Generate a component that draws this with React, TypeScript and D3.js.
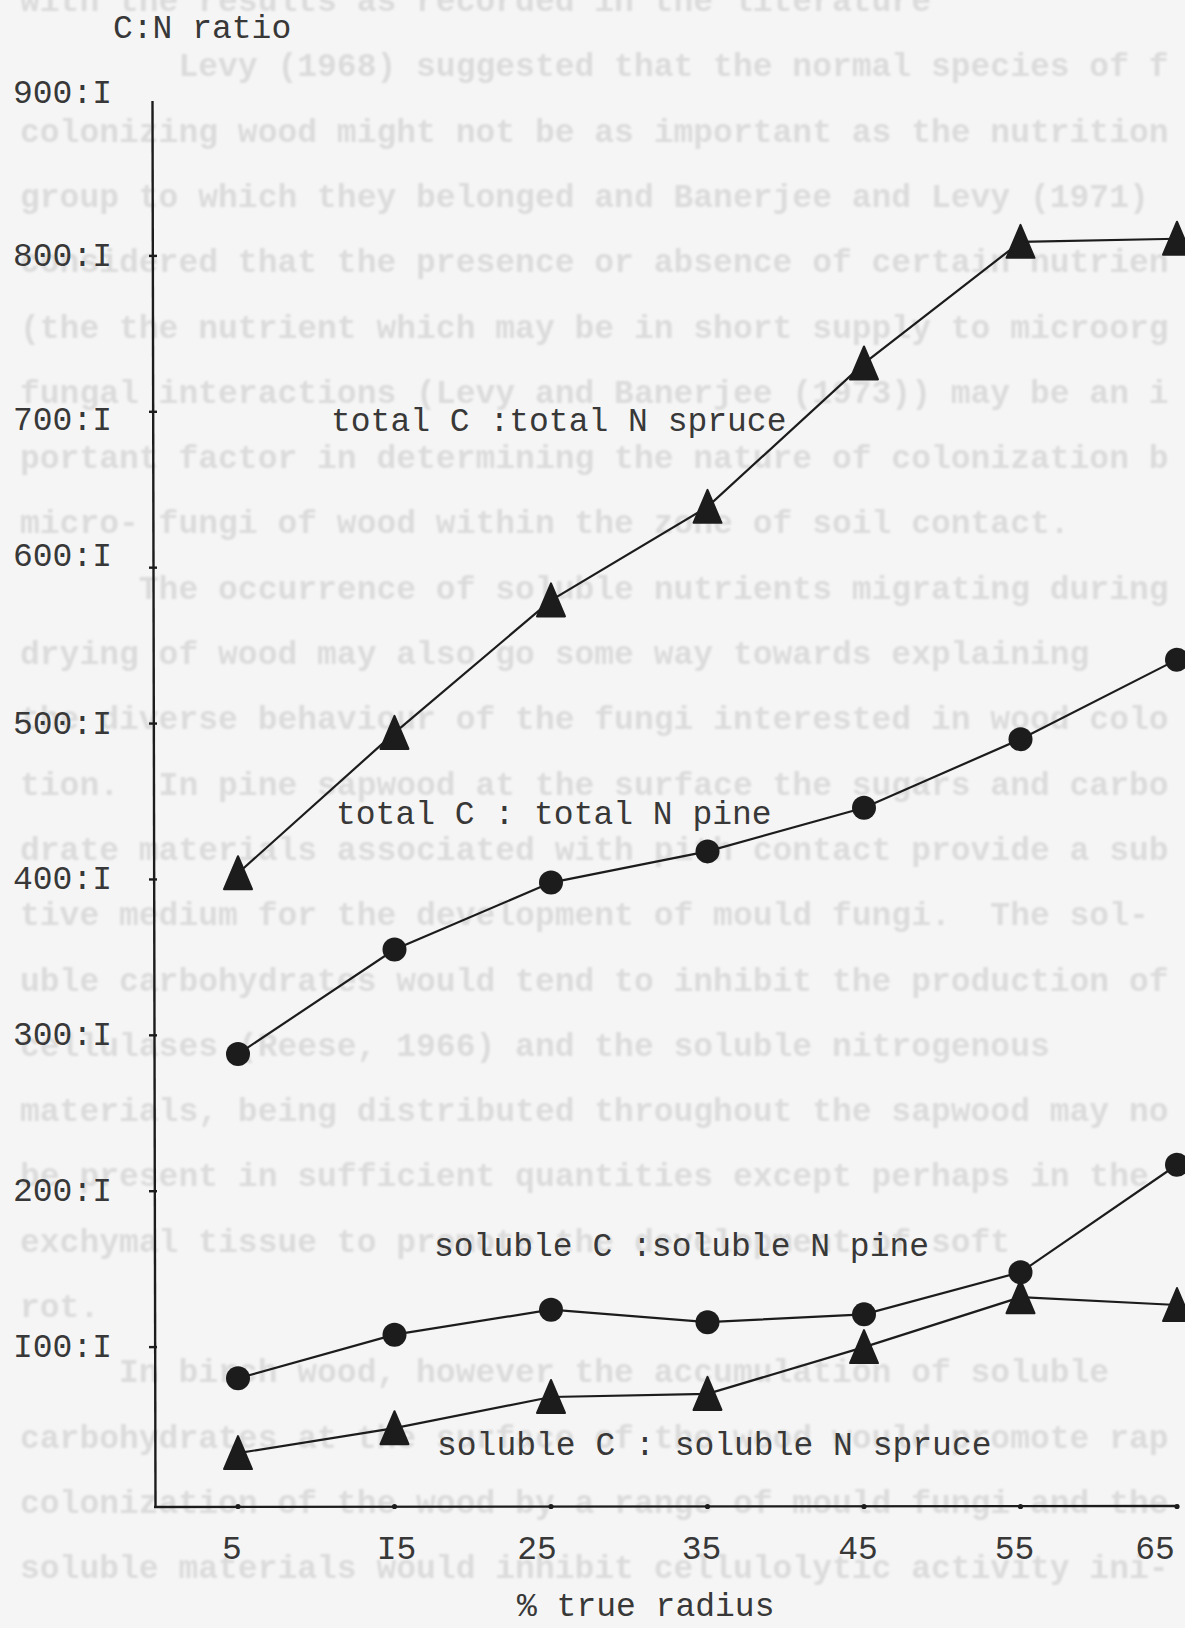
import { line, scaleLinear } from "d3";

const WIDTH = 1185;
const HEIGHT = 1628;

// % true radius positions along the stem
const RADIUS = [5, 15, 25, 35, 45, 55, 65];
const X_LABELS = ["5", "I5", "25", "35", "45", "55", "65"];

const Y_TICKS = [100, 200, 300, 400, 500, 600, 700, 800];
const Y_LABEL_VALUES = [100, 200, 300, 400, 500, 600, 700, 800, 900];
const Y_LABELS = ["I00:I", "200:I", "300:I", "400:I", "500:I", "600:I", "700:I", "800:I", "900:I"];

// C:N ratios (x:1)
const TOTAL_SPRUCE = [404, 494, 579, 639, 731, 809, 811];
const TOTAL_PINE = [288, 355, 398, 418, 446, 490, 541];
const SOLUBLE_PINE = [80, 108, 124, 116, 121, 148, 217];
const SOLUBLE_SPRUCE = [32, 48, 68, 70, 100, 132, 127];

const SERIES_NAMES = [
  "total C :total N spruce",
  "total C : total N pine",
  "soluble C :soluble N pine",
  "soluble C : soluble N spruce",
];

// text of the next page that shows through the paper
const SHOW_THROUGH = [
  "with the results as recorded in the literature",
  "        Levy (1968) suggested that the normal species of fungi",
  "colonizing wood might not be as important as the nutritional",
  "group to which they belonged and Banerjee and Levy (1971)",
  "considered that the presence or absence of certain nutrients",
  "(the the nutrient which may be in short supply to microorg-",
  "fungal interactions (Levy and Banerjee (1973)) may be an im-",
  "portant factor in determining the nature of colonization by",
  "micro- fungi of wood within the zone of soil contact.",
  "      The occurrence of soluble nutrients migrating during d-",
  "drying of wood may also go some way towards explaining",
  "the diverse behaviour of the fungi interested in wood colonisa-",
  "tion.  In pine sapwood at the surface the sugars and carbohy-",
  "drate materials associated with pith contact provide a substra-",
  "tive medium for the development of mould fungi.  The sol-",
  "uble carbohydrates would tend to inhibit the production of",
  "cellulases (Reese, 1966) and the soluble nitrogenous",
  "materials, being distributed throughout the sapwood may not",
  "be present in sufficient quantities except perhaps in the",
  "exchymal tissue to promote the development of soft",
  "rot.",
  "     In birch wood, however the accumulation of soluble",
  "carbohydrates at the surface of the wood would promote rapid",
  "colonization of the wood by a range of mould fungi and these",
  "soluble materials would inhibit cellulolytic activity ini-",
];

const FONT = "'Liberation Mono', 'DejaVu Sans Mono', monospace";
const INK = "#1c1c1c";
const TYPE = "#383838";

// the typist's small misplacements of a few labels
const Y_NUDGE: Record<number, number> = { 900: -7, 700: 8, 600: -12 };
const X_NUDGE: Record<number, number> = { 15: 8, 25: -8, 65: -16 };

export default function App() {
  const x = scaleLinear().domain([5, 65]).range([238, 1177]);
  const y = scaleLinear().domain([0, 900]).range([1503, 100]);

  const axisX = 154;
  const axisY = y(0) + 4;

  const series = [
    { values: TOTAL_SPRUCE, marker: "triangle" },
    { values: TOTAL_PINE, marker: "circle" },
    { values: SOLUBLE_PINE, marker: "circle" },
    { values: SOLUBLE_SPRUCE, marker: "triangle" },
  ];

  const path = line<number>()
    .x((_, i) => x(RADIUS[i]))
    .y((d) => y(d));

  const triangle = (cx: number, cy: number) =>
    `M${cx},${cy - 17}L${cx + 14},${cy + 16}L${cx - 14},${cy + 16}Z`;

  const labelSpots = [
    { x: 331, y: 431 },
    { x: 336, y: 824 },
    { x: 434, y: 1256 },
    { x: 437, y: 1455 },
  ];

  return (
    <div style={{ position: "absolute", left: 0, top: 0 }}>
      <svg width={WIDTH} height={HEIGHT} viewBox={`0 0 ${WIDTH} ${HEIGHT}`}>
        <defs>
          <filter id="soft" x="-5%" y="-50%" width="110%" height="200%">
            <feGaussianBlur stdDeviation="1.3" />
          </filter>
        </defs>
        <rect width={WIDTH} height={HEIGHT} fill="#f5f5f5" />

        <g filter="url(#soft)" fontFamily={FONT} fontSize={33} fill="#dbdbdb" fontWeight="bold">
          {SHOW_THROUGH.map((text, i) => (
            <text key={i} x={20} y={11 + i * 65.3} xmlSpace="preserve" style={{ whiteSpace: "pre" }}>
              {text.slice(0, 58)}
            </text>
          ))}
        </g>

        {/* axes */}
        <line x1={axisX - 1.5} y1={101} x2={axisX + 1.5} y2={axisY} stroke={INK} strokeWidth={2.4} />
        <line x1={axisX} y1={axisY} x2={x(65) + 2} y2={axisY - 1} stroke={INK} strokeWidth={2.4} />
        {Y_TICKS.map((t) => (
          <line key={t} x1={axisX - 5} x2={axisX + 3} y1={y(t)} y2={y(t)} stroke={INK} strokeWidth={2.4} />
        ))}
        {RADIUS.map((r) => (
          <circle key={r} cx={x(r)} cy={axisY - 0.5} r={2.6} fill={INK} />
        ))}

        <g fontFamily={FONT} fontSize={33} fill={TYPE}>
          <text x={113} y={38}>C:N ratio</text>
          {Y_LABEL_VALUES.map((v, i) => (
            <text key={v} x={112} y={y(v) + 10 + (Y_NUDGE[v] ?? 0)} textAnchor="end">
              {Y_LABELS[i]}
            </text>
          ))}
          {RADIUS.map((r, i) => (
            <text key={r} x={x(r) - 6 + (X_NUDGE[r] ?? 0)} y={1559} textAnchor="middle">
              {X_LABELS[i]}
            </text>
          ))}
          <text x={517} y={1616}>% true radius</text>
          {SERIES_NAMES.map((name, i) => (
            <text key={name} x={labelSpots[i].x} y={labelSpots[i].y} xmlSpace="preserve" style={{ whiteSpace: "pre" }}>
              {name}
            </text>
          ))}
        </g>

        {series.map((s, si) => (
          <g key={si}>
            <path d={path(s.values) ?? ""} fill="none" stroke={INK} strokeWidth={2.2} />
            {s.values.map((v, i) =>
              s.marker === "circle" ? (
                <circle key={i} cx={x(RADIUS[i])} cy={y(v)} r={12} fill={INK} />
              ) : (
                <path
                  key={i}
                  d={triangle(x(RADIUS[i]), y(v))}
                  fill={INK}
                  stroke={INK}
                  strokeWidth={2}
                  strokeLinejoin="round"
                />
              )
            )}
          </g>
        ))}
      </svg>
    </div>
  );
}
